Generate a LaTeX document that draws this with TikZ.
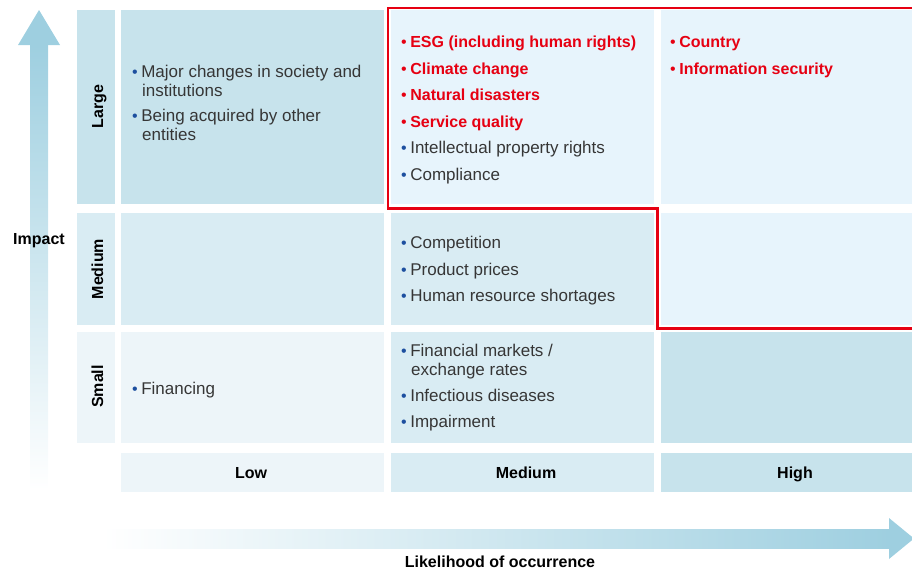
\documentclass[tikz,border=0pt]{standalone}
\usepackage{fontspec}
\setmainfont{Liberation Sans}
\definecolor{arrowblue}{HTML}{9ECFE0}
\definecolor{cdark}{HTML}{C7E3EC}
\definecolor{cmid}{HTML}{D9ECF3}
\definecolor{clight}{HTML}{EDF5F9}
\definecolor{cvlight}{HTML}{E7F4FC}
\definecolor{redline}{HTML}{E60012}
\definecolor{bulblue}{HTML}{1D4F9F}
\definecolor{txtgray}{HTML}{363636}
\newcommand\bul[1]{{\fontsize{16}{19}\mdseries\selectfont\textcolor{#1}{\textbullet}\hspace{3.5pt}}}
\begin{document}
\begin{tikzpicture}[x=1pt,y=-1pt,
  itm/.style={anchor=mid west, inner sep=0pt, text=txtgray, font=\fontsize{17}{19}\selectfont},
  ritm/.style={anchor=mid west, inner sep=0pt, text=redline, font=\fontsize{16}{19}\selectfont\bfseries},
  hdr/.style={anchor=base, inner sep=0pt, text=black, font=\fontsize{16}{19}\selectfont\bfseries},
  rowlbl/.style={hdr, rotate=90},
  redbox/.style={draw=redline, line width=2.2pt}]
\useasboundingbox (0,0) rectangle (912,570);
% vertical arrow
\shade[top color=arrowblue, bottom color=white] (30,45) rectangle (48,490);
\fill[arrowblue] (18,45) -- (39,10) -- (60,45) -- cycle;
% horizontal arrow
\shade[left color=white, right color=arrowblue] (103,529) rectangle (889.5,548);
\fill[arrowblue] (889,518) -- (914,538.5) -- (889,559) -- cycle;
% row label column
\fill[cdark]  (77,10) rectangle (115,204);
\fill[cmid]   (77,213) rectangle (115,325);
\fill[clight] (77,332) rectangle (115,443);
% Low column
\fill[cdark]  (121,10) rectangle (384,204);
\fill[cmid]   (121,213) rectangle (384,325);
\fill[clight] (121,332) rectangle (384,443);
\fill[clight] (121,453) rectangle (384,492);
% Medium column
\fill[cvlight] (391,10) rectangle (654,204);
\fill[cmid]    (391,213) rectangle (654,325);
\fill[cmid]    (391,332) rectangle (654,443);
\fill[cmid]    (391,453) rectangle (654,492);
% High column
\fill[cvlight] (661,10) rectangle (930,204);
\fill[cvlight] (661,213) rectangle (930,325);
\fill[cdark]   (661,332) rectangle (930,443);
\fill[cdark]   (661,453) rectangle (930,492);
% red outline
\draw[redbox] (388,8) -- (920,8) -- (920,328.5) -- (657.5,328.5) -- (657.5,208.5) -- (388,208.5) -- cycle;
% axis labels
\node[hdr] (impact) at (39,244) {Impact};
\node[hdr] (likelihood) at (500,567) {Likelihood of occurrence};
\node[rowlbl] (rlarge) at (103,106.5) {Large};
\node[rowlbl] (rmedium) at (103,269) {Medium};
\node[rowlbl] (rsmall) at (103,386.5) {Small};
\node[hdr] (clow) at (251,478) {Low};
\node[hdr] (cmedium) at (526,478) {Medium};
\node[hdr] (chigh) at (795,478) {High};
% Low / Large
\node[itm] (ll1) at (132,75) {\bul{bulblue}Major changes in society and};
\node[itm] (ll1b) at (142,94) {institutions};
\node[itm] (ll2) at (132,119) {\bul{bulblue}Being acquired by other};
\node[itm] (ll2b) at (142,138) {entities};
% Low / Small
\node[itm] (ls1) at (132,392) {\bul{bulblue}Financing};
% Medium / Large
\node[ritm] (ml1) at (401,45) {\bul{redline}ESG (including human rights)};
\node[ritm] (ml2) at (401,71.5) {\bul{redline}Climate change};
\node[ritm] (ml3) at (401,98) {\bul{redline}Natural disasters};
\node[ritm] (ml4) at (401,124.5) {\bul{redline}Service quality};
\node[itm] (ml5) at (401,151) {\bul{bulblue}Intellectual property rights};
\node[itm] (ml6) at (401,177.5) {\bul{bulblue}Compliance};
% High / Large
\node[ritm] (hl1) at (670,45) {\bul{redline}Country};
\node[ritm] (hl2) at (670,71.5) {\bul{redline}Information security};
% Medium / Medium
\node[itm] (mm1) at (401,246) {\bul{bulblue}Competition};
\node[itm] (mm2) at (401,272.5) {\bul{bulblue}Product prices};
\node[itm] (mm3) at (401,299) {\bul{bulblue}Human resource shortages};
% Medium / Small
\node[itm] (ms1) at (401,354) {\bul{bulblue}Financial markets /};
\node[itm] (ms1b) at (411,373) {exchange rates};
\node[itm] (ms2) at (401,399) {\bul{bulblue}Infectious diseases};
\node[itm] (ms3) at (401,425) {\bul{bulblue}Impairment};
\end{tikzpicture}
\end{document}
